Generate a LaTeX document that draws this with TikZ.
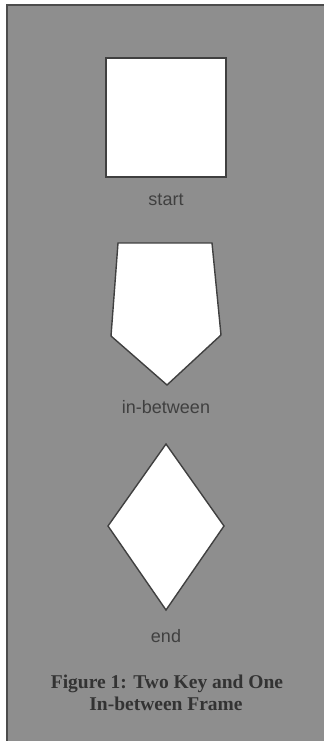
\documentclass[tikz,border=0pt]{standalone}
\usepackage{fontspec}
\setmainfont{Liberation Serif}
\newfontfamily\labelfont{Liberation Sans}
\begin{document}
\begin{tikzpicture}[x=1pt,y=-1pt,
  shapefill/.style={fill=white,draw=black!75,line width=1.4pt,line join=miter},
  framelabel/.style={anchor=base,text=black!75,font=\labelfont\fontsize{18}{20}\selectfont,inner sep=0pt},
  captext/.style={anchor=base,text=black!80,font=\bfseries\fontsize{19.5}{22}\selectfont,inner sep=0pt}]
\definecolor{panelgray}{HTML}{8E8E8E}
\useasboundingbox (0,0) rectangle (324,741);
\fill[white] (0,0) rectangle (324,741);
\fill[panelgray] (7,5) rectangle (324,741);
\draw[black!70,line width=1.2pt] (7,741) -- (7,5) -- (324,5);
% start: square
\draw[shapefill] (106,58) rectangle (226,177);
\node[framelabel] (lstart) at (166,205) {start};
% in-between: pentagon
\draw[shapefill] (118,243) -- (212,243) -- (221,335) -- (167,385) -- (111,336) -- cycle;
\node[framelabel] (lmid) at (166,413) {in-between};
% end: diamond
\draw[shapefill] (166,444) -- (224,526) -- (166,610) -- (108,526) -- cycle;
\node[framelabel] (lend) at (166,642) {end};
% caption
\node[captext] (cap1) at (167,688) {Figure 1: Two Key and One};
\node[captext] (cap2) at (166,710) {In-between Frame};
\end{tikzpicture}
\end{document}
